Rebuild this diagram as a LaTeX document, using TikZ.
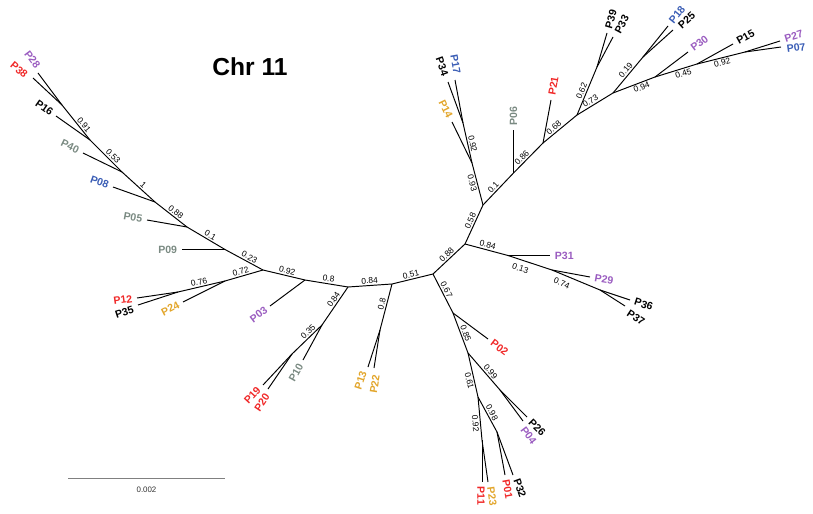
\documentclass[tikz,border=0pt]{standalone}
\usepackage{fontspec}
\setmainfont{Liberation Sans}
\usetikzlibrary{calc}
\definecolor{cred}{HTML}{F02828}
\definecolor{cpur}{HTML}{9A5CC0}
\definecolor{cgry}{HTML}{7A8A82}
\definecolor{cblu}{HTML}{3A5DB5}
\definecolor{cgld}{HTML}{E2A52A}
\tikzset{
  br/.style={line width=0.55pt, black},
  bl/.style={font=\fontsize{4.8}{5}\selectfont, inner sep=0.8pt, sloped},
  leaf/.style={font=\bfseries\fontsize{6}{7}\selectfont, inner xsep=2.6pt, inner ysep=0.5pt},
}
% name, x, y, rotation, anchor, colour, label dx, label dy
\newcommand\lf[8]{%
  \coordinate (t#1) at (#2,#3);
  \node[leaf, rotate=#4, anchor=#5, text=#6] (#1) at ($(t#1)+(#7,#8)$) {#1};}
\begin{document}
\begin{tikzpicture}[x=0.02cm,y=-0.02cm]
\useasboundingbox (0,0) rectangle (813,513);
\node[font=\bfseries\fontsize{14}{16}\selectfont] (title) at (250,67) {Chr 11};
% internal nodes
\coordinate (A) at (62,105);
\coordinate (B) at (90,140);
\coordinate (C) at (122,172);
\coordinate (D) at (155,202);
\coordinate (E) at (187,227);
\coordinate (F) at (225,249.5);
\coordinate (G) at (263,270);
\coordinate (H) at (225,281);
\coordinate (I) at (178,292);
\coordinate (J) at (305,280);
\coordinate (K) at (348,287);
\coordinate (L) at (322,325);
\coordinate (M) at (292,354);
\coordinate (N) at (392,284);
\coordinate (O) at (380,330);
\coordinate (P) at (433,274);
\coordinate (Q) at (465,244);
\coordinate (R) at (508,255.5);
\coordinate (S) at (552,270);
\coordinate (T) at (600,290);
\coordinate (U) at (483,205);
\coordinate (AB) at (472,163);
\coordinate (AC) at (463,123);
\coordinate (AD) at (513.5,173);
\coordinate (AE) at (543,143);
\coordinate (AF) at (577,115);
\coordinate (AG) at (597,67);
\coordinate (AH) at (613,93);
\coordinate (AI) at (643,57);
\coordinate (AJ) at (655,77);
\coordinate (AK) at (697,64);
\coordinate (AL) at (745,52);
\coordinate (V) at (453,313);
\coordinate (W) at (468,353);
\coordinate (X) at (500,390);
\coordinate (Y) at (478,397);
\coordinate (Z) at (497,432);
\coordinate (AA) at (482,440);
% leaves (left side)
\lf{P28}{38}{73}{-53}{east}{cpur}{3}{-2}
\lf{P38}{33}{78}{-40}{east}{cred}{-3}{1}
\lf{P16}{56}{116}{-35}{east}{black}{0}{0}
\lf{P40}{83}{153}{-26}{east}{cgry}{0}{0}
\lf{P08}{113}{187}{-20}{east}{cblu}{0}{0}
\lf{P05}{147}{220}{-10}{east}{cgry}{0}{0}
\lf{P09}{182}{249.5}{0}{east}{cgry}{0}{0}
\lf{P12}{137}{298}{8}{east}{cred}{0}{0}
\lf{P35}{138}{305}{18}{east}{black}{0}{3}
\lf{P24}{183}{302}{27}{east}{cgld}{0}{0}
\lf{P03}{270}{306}{37}{east}{cpur}{0}{0}
\lf{P19}{263}{385}{47}{east}{cred}{-1}{0}
\lf{P20}{268}{389}{56}{east}{cred}{2}{2}
\lf{P10}{303}{360}{61}{east}{cgry}{0}{0}
\lf{P13}{368}{367}{72}{east}{cgld}{-3}{0}
\lf{P22}{374}{368}{81}{east}{cgld}{3}{2}
\lf{P14}{452}{122}{-64}{east}{cgld}{0}{0}
\lf{P34}{448}{82}{-70}{east}{black}{-1}{-2}
\lf{P17}{455}{80}{-80}{east}{cblu}{3}{-2}
% leaves (right side)
\lf{P06}{513.5}{130}{90}{west}{cgry}{0}{0}
\lf{P21}{551}{100}{80}{west}{cred}{0}{0}
\lf{P39}{607}{33}{74}{west}{black}{0}{0}
\lf{P33}{613}{37}{62}{west}{black}{2}{0}
\lf{P18}{668}{26}{51}{west}{cblu}{0}{0}
\lf{P25}{673}{30}{42}{west}{black}{3}{0}
\lf{P30}{688}{52}{37}{west}{cpur}{0}{0}
\lf{P15}{733}{44}{29}{west}{black}{0}{0}
\lf{P27}{780}{41}{17}{west}{cpur}{0}{-1}
\lf{P07}{781}{47}{8}{west}{cblu}{1}{3}
\lf{P31}{550}{255.5}{0}{west}{cpur}{0}{0}
\lf{P29}{590}{277}{-10}{west}{cpur}{0}{0}
\lf{P36}{630}{300}{-18}{west}{black}{0}{0}
\lf{P37}{625}{306}{-33}{west}{black}{-1}{4}
\lf{P02}{488}{339}{-37}{west}{cred}{0}{0}
\lf{P26}{527}{417}{-45}{west}{black}{0}{0}
\lf{P04}{523}{421}{-53}{west}{cpur}{-3}{3}
\lf{P01}{505}{475}{-80}{west}{cred}{0}{0}
\lf{P32}{513}{475}{-70}{west}{black}{2}{0}
\lf{P11}{482}{482}{-90}{west}{cred}{-1}{0}
\lf{P23}{488}{482}{-82}{west}{cgld}{2}{0}
% internal branches
\draw[br] (A) -- node[bl,above,pos=0.65]{0.91} (B);
\draw[br] (B) -- node[bl,above,pos=0.62]{0.53} (C);
\draw[br] (C) -- node[bl,above,pos=0.55]{1} (D);
\draw[br] (D) -- node[bl,above,pos=0.56]{0.88} (E);
\draw[br] (E) -- node[bl,above,pos=0.55]{0.1} (F);
\draw[br] (F) -- node[bl,above,pos=0.58]{0.23} (G);
\draw[br] (G) -- node[bl,above,pos=0.55]{0.72} (H);
\draw[br] (H) -- node[bl,above,pos=0.53]{0.76} (I);
\draw[br] (G) -- node[bl,above,pos=0.55]{0.92} (J);
\draw[br] (J) -- node[bl,above,pos=0.53]{0.8} (K);
\draw[br] (K) -- node[bl,above,pos=0.4]{0.84} (L);
\draw[br] (L) -- node[bl,above,pos=0.35]{0.35} (M);
\draw[br] (K) -- node[bl,above,pos=0.5]{0.84} (N);
\draw[br] (N) -- node[bl,above,pos=0.46]{0.8} (O);
\draw[br] (N) -- node[bl,above,pos=0.49]{0.51} (P);
\draw[br] (P) -- node[bl,above,pos=0.53]{0.88} (Q);
\draw[br] (P) -- node[bl,above,pos=0.46]{0.67} (V);
\draw[br] (V) -- node[bl,above,pos=0.55]{0.85} (W);
\draw[br] (W) -- node[bl,above,pos=0.59]{0.99} (X);
\draw[br] (W) -- node[bl,below,pos=0.61]{0.61} (Y);
\draw[br] (Y) -- node[bl,above,pos=0.51]{0.98} (Z);
\draw[br] (Y) -- node[bl,below,pos=0.6]{0.92} (AA);
\draw[br] (Q) -- node[bl,above,pos=0.5]{0.84} (R);
\draw[br] (R) -- node[bl,below=2pt,pos=0.34]{0.13} (S);
\draw[br] (S) -- node[bl,below=2pt,pos=0.27]{0.74} (T);
\draw[br] (Q) -- node[bl,above,pos=0.54]{0.58} (U);
\draw[br] (U) -- node[bl,below,pos=0.55]{0.93} (AB);
\draw[br] (AB) -- node[bl,above,pos=0.45]{0.92} (AC);
\draw[br] (U) -- node[bl,above,pos=0.45]{0.1} (AD);
\draw[br] (AD) -- node[bl,above,pos=0.4]{0.86} (AE);
\draw[br] (AE) -- node[bl,above,pos=0.41]{0.68} (AF);
\draw[br] (AF) -- node[bl,above,pos=0.46]{0.62} (AG);
\draw[br] (AF) -- node[bl,above,pos=0.44]{0.73} (AH);
\draw[br] (AH) -- node[bl,above,pos=0.55]{0.19} (AI);
\draw[br] (AH) -- node[bl,below,pos=0.64]{0.94} (AJ);
\draw[br] (AJ) -- node[bl,below,pos=0.64]{0.45} (AK);
\draw[br] (AK) -- node[bl,below,pos=0.5]{0.92} (AL);
% leaf branches
\draw[br] (A) -- (tP28);
\draw[br] (A) -- (tP38);
\draw[br] (B) -- (tP16);
\draw[br] (C) -- (tP40);
\draw[br] (D) -- (tP08);
\draw[br] (E) -- (tP05);
\draw[br] (F) -- (tP09);
\draw[br] (I) -- (tP12);
\draw[br] (I) -- (tP35);
\draw[br] (H) -- (tP24);
\draw[br] (J) -- (tP03);
\draw[br] (M) -- (tP19);
\draw[br] (M) -- (tP20);
\draw[br] (L) -- (tP10);
\draw[br] (O) -- (tP13);
\draw[br] (O) -- (tP22);
\draw[br] (AB) -- (tP14);
\draw[br] (AC) -- (tP34);
\draw[br] (AC) -- (tP17);
\draw[br] (AD) -- (tP06);
\draw[br] (AE) -- (tP21);
\draw[br] (AG) -- (tP39);
\draw[br] (AG) -- (tP33);
\draw[br] (AI) -- (tP18);
\draw[br] (AI) -- (tP25);
\draw[br] (AJ) -- (tP30);
\draw[br] (AK) -- (tP15);
\draw[br] (AL) -- (tP27);
\draw[br] (AL) -- (tP07);
\draw[br] (R) -- (tP31);
\draw[br] (S) -- (tP29);
\draw[br] (T) -- (tP36);
\draw[br] (T) -- (tP37);
\draw[br] (V) -- (tP02);
\draw[br] (X) -- (tP26);
\draw[br] (X) -- (tP04);
\draw[br] (Z) -- (tP01);
\draw[br] (Z) -- (tP32);
\draw[br] (AA) -- (tP11);
\draw[br] (AA) -- (tP23);
% scale bar
\coordinate (sb1) at (68,478.5);
\coordinate (sb2) at (225,478.5);
\draw[line width=0.6pt, gray] (sb1) -- node[below=1pt, font=\fontsize{4.5}{5}\selectfont, text=black!80] (sblab) {0.002} (sb2);
\end{tikzpicture}
\end{document}
